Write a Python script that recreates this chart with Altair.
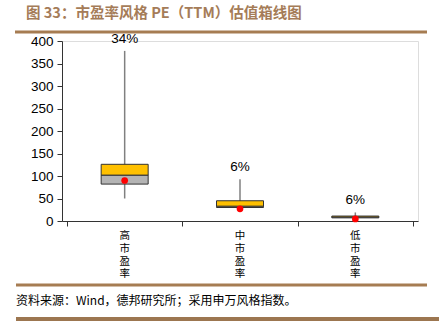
import altair as alt
import pandas as pd

cats = ["高市盈率", "中市盈率", "低市盈率"]
whisk_lo = [50, 26, 6]
q1 = [82, 30, 7]
med = [102, 33, 9]
q3 = [126, 45, 11]
whisk_hi = [378, 93, 19]
means = [90, 27, 4.5]
pct_labels = ["34%", "6%", "6%"]
y_ticks = [0, 50, 100, 150, 200, 250, 300, 350, 400]

title_text = "图 33：市盈率风格 PE（TTM）估值箱线图"
source_text = "资料来源：Wind，德邦研究所；采用申万风格指数。"

df = pd.DataFrame({
    "cat": cats,
    "pos": [i + 0.5 for i in range(len(cats))],
    "lo": whisk_lo, "q1": q1, "med": med, "q3": q3, "hi": whisk_hi,
    "mean": means, "lab": pct_labels,
})

W, H = 356, 180
xs = alt.Scale(domain=[0, 3], nice=False, zero=False)
ys = alt.Scale(domain=[0, 400], nice=False)

xaxis = alt.Axis(values=[0, 1, 2, 3], labels=False, ticks=True,
                 tickSize=5, grid=False, title=None, domainColor="#333333", tickColor="#333333")
yaxis = alt.Axis(values=y_ticks, tickSize=5, grid=False, title=None,
                 labelFontSize=13.5, labelFont="Liberation Sans", labelColor="#000000", labelPadding=4,
                 labelOverlap=False, labelFlush=False,
                 domainColor="#333333", tickColor="#333333")


def X():
    return alt.X("pos:Q", scale=xs, axis=xaxis)


def Yf(f):
    return alt.Y(f"{f}:Q", scale=ys, axis=yaxis)


base = alt.Chart(df)

whisk = base.mark_rule(color="#808080", strokeWidth=1.5).encode(x=X(), y=Yf("lo"), y2="hi:Q")
lower = base.mark_bar(size=47, color="#B4B4B4", stroke="#333333", strokeWidth=1).encode(
    x=X(), y=Yf("q1"), y2="med:Q")
upper = base.mark_bar(size=47, color="#FFC000", stroke="#333333", strokeWidth=1).encode(
    x=X(), y=Yf("med"), y2="q3:Q")
dots = base.mark_point(filled=True, color="#FF0000", size=45, opacity=1).encode(
    x=X(), y=Yf("mean"))
pct = base.mark_text(fontSize=13.5, font="Liberation Sans", color="#000000", baseline="bottom", dy=-5).encode(
    x=X(), y=Yf("hi"), text="lab:N")

catlayers = []
for k in range(4):
    catlayers.append(
        base.transform_calculate(ch=f"split(datum.cat, '')[{k}]").mark_text(
            fontSize=10.5, font="Noto Sans CJK SC", color="#000000", baseline="top").encode(
            x=X(), y=alt.value(H + 10 + k * 12.8), text="ch:N")
    )

one = alt.Data(values=[{"a": 1}])
title = alt.Chart(one).mark_text(fontSize=14.5, fontWeight="bold", font="Noto Sans CJK SC",
                                 color="#A57C58", align="left", baseline="middle").encode(
    x=alt.value(-36), y=alt.value(-27), text=alt.value(title_text))
line_top = alt.Chart(one).mark_rule(color="#A67C52", strokeWidth=3).encode(
    x=alt.value(-47), x2=alt.value(365), y=alt.value(-9))
line_mid = alt.Chart(one).mark_rule(color="#A67C52", strokeWidth=3).encode(
    x=alt.value(-46), x2=alt.value(365), y=alt.value(H + 64))
source = alt.Chart(one).mark_text(fontSize=12, font="Noto Sans CJK SC", color="#000000",
                                  align="left", baseline="middle").encode(
    x=alt.value(-46), y=alt.value(H + 80), text=alt.value(source_text))
line_bot = alt.Chart(one).mark_rule(color="#9C7650", strokeWidth=4).encode(
    x=alt.value(-46), x2=alt.value(377), y=alt.value(H + 98))

chart = alt.layer(whisk, lower, upper, dots, pct, *catlayers, title, line_top, line_mid, source, line_bot).properties(
    width=W, height=H,
    autosize=alt.AutoSizeParams(type="none"),
    padding={"left": 62, "top": 41, "right": 21, "bottom": 104},
).configure_view(stroke=None).configure(background="#FFFFFF")

chart.save("out.html", embed_options={"renderer": "svg", "actions": False})
